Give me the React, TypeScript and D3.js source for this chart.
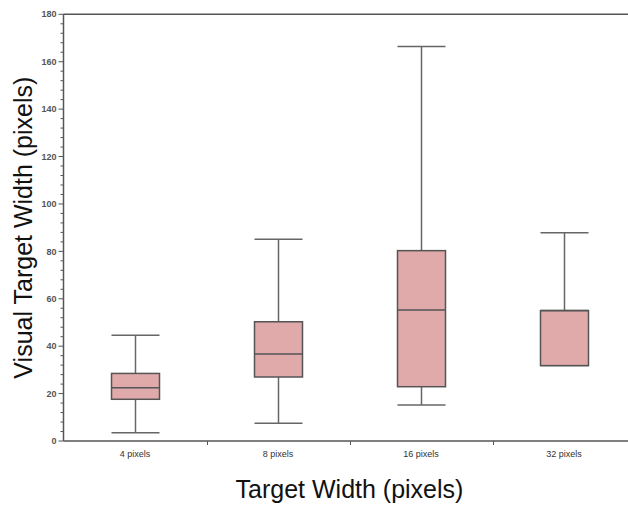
import React, { useEffect, useRef } from "react";
import * as d3 from "d3";

const categories = ["4 pixels", "8 pixels", "16 pixels", "32 pixels"];
const whiskerLow = [3.5, 7.5, 15.2, 31.8];
const quartileLow = [17.6, 27.0, 22.9, 31.8];
const medians = [22.5, 36.7, 55.3, 55.0];
const quartileHigh = [28.5, 50.3, 80.3, 55.0];
const whiskerHigh = [44.6, 85.1, 166.4, 87.9];
const yTicks = [0, 20, 40, 60, 80, 100, 120, 140, 160, 180];

const App = () => {
  const ref = useRef(null);

  useEffect(() => {
    const svg = d3.select(ref.current);
    svg.selectAll("*").remove();

    const left = 63.5;
    const top = 14.3;
    const bottom = 441;
    const x = d3.scaleBand().domain(categories).range([left, left + 4 * 143]);
    const y = d3.scaleLinear().domain([0, 180]).range([bottom, top]);
    const axisColor = "#555";

    const data = categories.map((c, i) => ({
      c,
      lo: whiskerLow[i],
      q1: quartileLow[i],
      med: medians[i],
      q3: quartileHigh[i],
      hi: whiskerHigh[i],
    }));

    const boxW = 48;
    const g = svg.append("g");
    data.forEach((d) => {
      const cx = Math.round(x(d.c)! + x.bandwidth() / 2) + 0.5;
      const bg = g.append("g");
      // whiskers
      bg.append("line")
        .attr("x1", cx).attr("x2", cx)
        .attr("y1", y(d.hi)).attr("y2", y(d.q3))
        .attr("stroke", "#666").attr("stroke-width", 1.5);
      bg.append("line")
        .attr("x1", cx).attr("x2", cx)
        .attr("y1", y(d.q1)).attr("y2", y(d.lo))
        .attr("stroke", "#666").attr("stroke-width", 1.5);
      [d.hi, d.lo].forEach((v) => {
        bg.append("line")
          .attr("x1", cx - boxW / 2).attr("x2", cx + boxW / 2)
          .attr("y1", y(v)).attr("y2", y(v))
          .attr("stroke", "#666").attr("stroke-width", 1.5);
      });
      bg.append("rect")
        .attr("x", cx - boxW / 2)
        .attr("y", y(d.q3))
        .attr("width", boxW)
        .attr("height", y(d.q1) - y(d.q3))
        .attr("fill", "#e0a9aa")
        .attr("stroke", "#555")
        .attr("stroke-width", 1.5);
      bg.append("line")
        .attr("x1", cx - boxW / 2).attr("x2", cx + boxW / 2)
        .attr("y1", y(d.med)).attr("y2", y(d.med))
        .attr("stroke", "#555").attr("stroke-width", 1.5);
    });

    // y axis
    const yAxis = svg.append("g").attr("transform", `translate(${left},0)`);
    yAxis.append("line")
      .attr("x1", 0).attr("x2", 0)
      .attr("y1", top).attr("y2", bottom)
      .attr("stroke", axisColor).attr("stroke-width", 1.5);
    d3.range(0, 181, 4).forEach((v) => {
      const major = v % 20 === 0;
      yAxis.append("line")
        .attr("x1", major ? -5 : -3).attr("x2", 0)
        .attr("y1", y(v)).attr("y2", y(v))
        .attr("stroke", axisColor).attr("stroke-width", 1);
    });
    yAxis.selectAll("text.tick")
      .data(yTicks)
      .enter()
      .append("text")
      .attr("class", "tick")
      .attr("x", -7)
      .attr("y", (d) => y(d))
      .attr("dy", "0.35em")
      .attr("text-anchor", "end")
      .style("font-family", "Liberation Sans, Arial, sans-serif")
      .style("font-size", "9px")
      .style("font-weight", "bold")
      .style("fill", "#555")
      .text((d) => d);

    // top border
    svg.append("line")
      .attr("x1", left).attr("x2", 628)
      .attr("y1", top).attr("y2", top)
      .attr("stroke", axisColor).attr("stroke-width", 1.5);

    // x axis
    svg.append("line")
      .attr("x1", left).attr("x2", 628)
      .attr("y1", bottom).attr("y2", bottom)
      .attr("stroke", axisColor).attr("stroke-width", 1.5);
    categories.slice(1).forEach((c) => {
      const tx = Math.round(x(c)!) + 0.5;
      svg.append("line")
        .attr("x1", tx).attr("x2", tx)
        .attr("y1", bottom).attr("y2", bottom + 4)
        .attr("stroke", axisColor).attr("stroke-width", 1);
    });
    svg.selectAll("text.xlab")
      .data(categories)
      .enter()
      .append("text")
      .attr("class", "xlab")
      .attr("x", (d) => x(d)! + x.bandwidth() / 2)
      .attr("y", 457)
      .attr("text-anchor", "middle")
      .style("font-family", "Liberation Sans, Arial, sans-serif")
      .style("font-size", "9px")
      .style("fill", "#333")
      .text((d) => d);

    // titles
    svg.append("text")
      .attr("x", left + (4 * 143) / 2)
      .attr("y", 498)
      .attr("text-anchor", "middle")
      .style("font-family", "Liberation Sans, Arial, sans-serif")
      .style("font-size", "25px")
      .style("fill", "#111")
      .text("Target Width (pixels)");
    svg.append("text")
      .attr("transform", `translate(32,${(top + bottom) / 2}) rotate(-90)`)
      .attr("text-anchor", "middle")
      .style("font-family", "Liberation Sans, Arial, sans-serif")
      .style("font-size", "25px")
      .style("fill", "#111")
      .text("Visual Target Width (pixels)");
  }, []);

  return (
    <svg
      ref={ref}
      width={628}
      height={505}
      style={{ position: "absolute", left: 0, top: 0, background: "#fff" }}
    />
  );
};

export default App;
